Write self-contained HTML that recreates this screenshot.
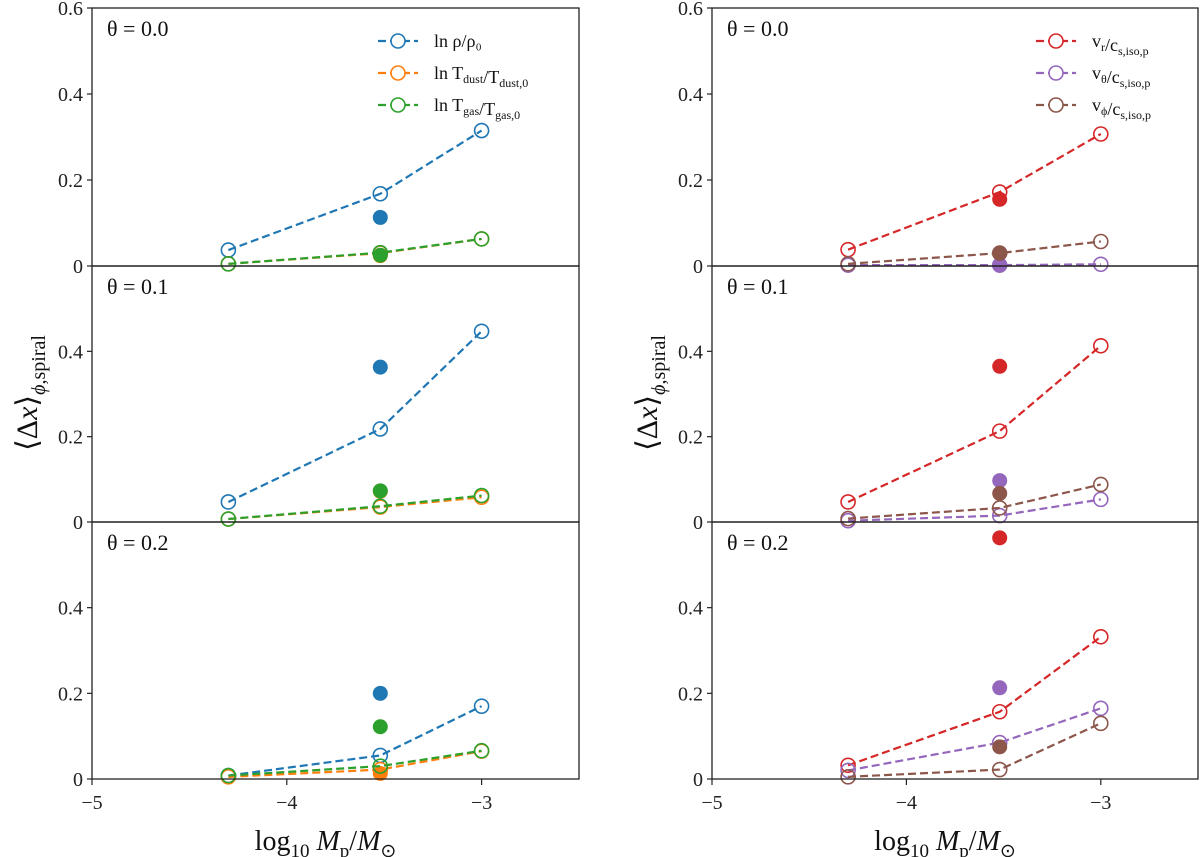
<!DOCTYPE html>
<html><head><meta charset="utf-8"><style>
body{margin:0;background:#fff}
svg{display:block;font-family:"Liberation Serif",serif}
</style></head><body>
<svg id="c" width="1200" height="857"></svg>
<script>
const xVals=[-4.3,-3.52,-3];
const xTicks=[-5,-4,-3];
const yTicks=[0,0.2,0.4,0.6];
const thetaLabels=["θ = 0.0","θ = 0.1","θ = 0.2"];
// left panel series [row][point]
const rhoOpen=[[0.037,0.168,0.315],[0.047,0.218,0.447],[0.008,0.055,0.170]];
const rhoFilled=[0.113,0.363,0.200];
const dustOpen=[[0.005,0.030,0.063],[0.007,0.035,0.058],[0.005,0.022,0.065]];
const dustFilled=[0.024,0.072,0.013];
const gasOpen=[[0.005,0.031,0.063],[0.007,0.037,0.062],[0.008,0.030,0.066]];
const gasFilled=[0.025,0.073,0.122];
// right panel
const vrOpen=[[0.038,0.172,0.307],[0.047,0.213,0.413],[0.032,0.157,0.332]];
const vrFilled=[0.155,0.365,0.563];
const vthOpen=[[0.002,0.002,0.004],[0.003,0.015,0.053],[0.020,0.085,0.165]];
const vthFilled=[0.002,0.097,0.213];
const vphOpen=[[0.005,0.030,0.057],[0.008,0.033,0.088],[0.005,0.022,0.130]];
const vphFilled=[0.030,0.067,0.075];

const NS="http://www.w3.org/2000/svg";
const svg=document.getElementById('c');
function mk(t,a,p){const e=document.createElementNS(NS,t);for(const k in a)e.setAttribute(k,a[k]);(p||svg).appendChild(e);return e;}
const rowTop=[8,266,522],rowBot=[266,522,779];
const panelsX=[[92,579],[712,1198]];
function xs(p,v){const [a,b]=panelsX[p];return a+(v+5)/2.5*(b-a);}
function ys(r,v){return rowBot[r]-v/0.6*(rowBot[r]-rowTop[r]);}

const left=[{name:'rho',c:'#1f77b4',o:rhoOpen,f:rhoFilled},{name:'dust',c:'#ff7f0e',o:dustOpen,f:dustFilled},{name:'gas',c:'#2ca02c',o:gasOpen,f:gasFilled}];
const right=[{name:'vr',c:'#d62728',o:vrOpen,f:vrFilled},{name:'vtheta',c:'#9467bd',o:vthOpen,f:vthFilled},{name:'vphi',c:'#8c564b',o:vphOpen,f:vphFilled}];

[left,right].forEach((series,p)=>{
  const [x0,x1]=panelsX[p];
  for(let r=0;r<3;r++){
    const g=mk('g',{});
    
    
    series.forEach(s=>{
      const pts=xVals.map((x,i)=>xs(p,x)+','+ys(r,s.o[r][i])).join(' ');
      const l=mk('polyline',{points:pts,fill:'none',stroke:s.c,'stroke-width':2.2,'stroke-dasharray':'8,4'},g);
      
      
      xVals.forEach((x,i)=>{
        const m=mk('circle',{cx:xs(p,x),cy:ys(r,s.o[r][i]),r:7,fill:'none',stroke:s.c,'stroke-width':1.6},g);
        
        
      });
      const f=mk('circle',{cx:xs(p,xVals[1]),cy:ys(r,s.f[r]),r:7.5,fill:s.c},g);
      
      
    });
    const fr=mk('rect',{x:x0,y:rowTop[r],width:x1-x0,height:rowBot[r]-rowTop[r],fill:'none',stroke:'#222','stroke-width':1.3},g);
    
    
    yTicks.forEach(v=>{
      if(v===0.6&&r>0)return;
      const y=ys(r,v);
      mk('line',{x1:x0-5,x2:x0,y1:y,y2:y,stroke:'#222','stroke-width':1.2},g);
      const t=mk('text',{x:x0-9,y:y+7,'text-anchor':'end','font-size':20,fill:'#222'},g);
      t.textContent=v===0?'0':v.toFixed(1);
      
      
    });
    const th=mk('text',{x:x0+15,y:rowTop[r]+28,'font-size':22,fill:'#111'},g);
    th.textContent=thetaLabels[r];
    
    
  }
  xTicks.forEach(v=>{
    const x=xs(p,v);
    mk('line',{x1:x,x2:x,y1:779,y2:785,stroke:'#222','stroke-width':1.2});
    const t=mk('text',{x:x,y:809,'text-anchor':'middle','font-size':20,fill:'#222'});
    t.textContent='−'+Math.abs(v);
    
    
  });
  const xl=mk('text',{x:(x0+x1)/2-10,y:850,'text-anchor':'middle','font-size':28,fill:'#111'});
  xl.innerHTML='log<tspan font-size="19" dy="7">10</tspan><tspan dy="-7" font-style="italic"> M</tspan><tspan font-size="19" dy="7">p</tspan><tspan dy="-7">/</tspan><tspan font-style="italic">M</tspan><tspan font-size="19" dy="7">⊙</tspan>';
  
  
  const yl=mk('text',{x:0,y:0,'text-anchor':'middle','font-size':30,fill:'#111',transform:`translate(${x0-55},393) rotate(-90)`});
  yl.innerHTML='⟨Δ<tspan font-style="italic">x</tspan>⟩<tspan font-size="20" dy="8"><tspan font-style="italic">ϕ</tspan>,spiral</tspan>';
  
  
  // legend
  const labels=p===0?['ln ρ/ρ₀','ln T<sub>dust</sub>/T<sub>dust,0</sub>','ln T<sub>gas</sub>/T<sub>gas,0</sub>']:['v<sub>r</sub>/c<sub>s,iso,p</sub>','v<sub>θ</sub>/c<sub>s,iso,p</sub>','v<sub>ϕ</sub>/c<sub>s,iso,p</sub>'];
  const lx=p===0?378:1036;
  series.forEach((s,i)=>{
    const y=41+i*32;
    const lg=mk('g',{});
    
    
    mk('line',{x1:lx,x2:lx+40,y1:y,y2:y,stroke:s.c,'stroke-width':2.2,'stroke-dasharray':'8,4'},lg);
    mk('circle',{cx:lx+20,cy:y,r:7,fill:'#fff',stroke:s.c,'stroke-width':1.6},lg);
    const t=mk('text',{x:lx+56,y:y+6,'font-size':18,fill:'#111'},lg);
    t.innerHTML=labels[i].replace(/<sub>(.*?)<\/sub>/g,'<tspan font-size="12" dy="4">$1</tspan><tspan dy="-4"></tspan>');
  });
});
</script>
</body></html>
